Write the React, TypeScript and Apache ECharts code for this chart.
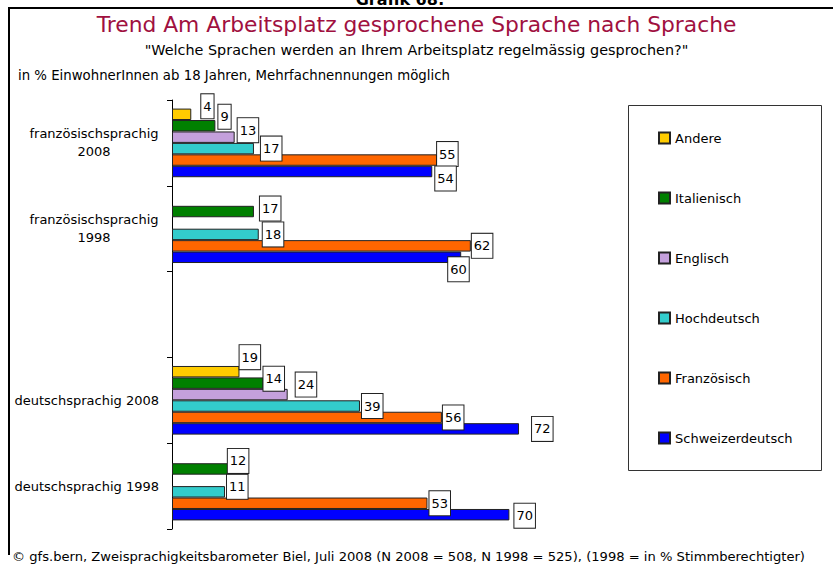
import React, { useEffect, useRef } from 'react';
import * as echarts from 'echarts';

const categories = [
  'französischsprachig\n2008',
  'französischsprachig\n1998',
  '',
  'deutschsprachig 2008',
  'deutschsprachig 1998',
];
const seriesNames = ['Andere', 'Italienisch', 'Englisch', 'Hochdeutsch', 'Französisch', 'Schweizerdeutsch'];
const andere = [4, null, null, 14, null];
const italienisch = [9, 17, null, 19, 12];
const englisch = [13, null, null, 24, null];
const hochdeutsch = [17, 18, null, 39, 11];
const franzoesisch = [55, 62, null, 56, 53];
const schweizerdeutsch = [54, 60, null, 72, 70];

const titleText = 'Trend Am Arbeitsplatz gesprochene Sprache nach Sprache';
const subtitleText = '"Welche Sprachen werden an Ihrem Arbeitsplatz regelmässig gesprochen?"';
const noteText = 'in % EinwohnerInnen ab 18 Jahren, Mehrfachnennungen möglich';
const footerText =
  '© gfs.bern, Zweisprachigkeitsbarometer Biel, Juli 2008 (N 2008 = 508, N 1998 = 525), (1998 = in % Stimmberechtigter)';
const captionText = 'Grafik 68:';

// label nudges [dx, dy] relative to the bar end (as placed manually in the original)
const labelNudges: (number[] | null)[][] = [
  [[10, -8], null, null, [24, 7], null],
  [[3, -9], [6, -3], null, [-24, -26], [-2, -8]],
  [[3, -7], null, null, [8, -10], null],
  [[7, 0], [4, 0], null, [2, 0], [2, -5]],
  [[0, -6], [1, 0], null, [1, 0], [2, 0]],
  [[3, 7], [-13, 12], null, [13, 0], [5, 1]],
];

const colors = ['#FFCC00', '#008000', '#C4A0DC', '#33CCCC', '#FF6600', '#0000FF'];
const FONT = 'DejaVu Sans';

export default function App() {
  const ref = useRef<HTMLDivElement>(null);
  useEffect(() => {
    if (!ref.current) return;
    const chart = echarts.init(ref.current, undefined, { renderer: 'svg' });
    const allValues = [andere, italienisch, englisch, hochdeutsch, franzoesisch, schweizerdeutsch];
    const series = seriesNames.map((name, si) => ({
      name,
      type: 'bar',
      barGap: '0%',
      barCategoryGap: '20%',
      itemStyle: { color: colors[si], borderColor: '#222', borderWidth: 1 },
      label: {
        show: true,
        position: 'right',
        distance: 0,
        color: '#000',
        fontFamily: FONT,
        fontSize: 13,
        lineHeight: 14,
        backgroundColor: '#fff',
        borderColor: '#222',
        borderWidth: 1,
        padding: [5, 2, 5, 2],
      },
      data: allValues[si].map((v, ci) => {
        if (v === null) return '-';
        const n = labelNudges[si][ci];
        return n ? { value: v, label: { offset: n } } : v;
      }),
    }));

    chart.setOption({
      animation: false,
      backgroundColor: '#fff',
      textStyle: { fontFamily: FONT },
      title: [
        {
          text: titleText,
          left: 'center',
          top: 8,
          textStyle: { color: '#A0103F', fontSize: 21.8, fontWeight: 'normal', fontFamily: FONT },
        },
        {
          text: subtitleText,
          left: 'center',
          top: 38,
          textStyle: { color: '#000', fontSize: 14.4, fontWeight: 'normal', fontFamily: FONT },
        },
        {
          text: noteText,
          left: 13,
          top: 64,
          textStyle: { color: '#000', fontSize: 13.3, fontWeight: 'normal', fontFamily: FONT },
        },
        {
          text: footerText,
          left: 7,
          top: 545,
          textStyle: { color: '#000', fontSize: 13.1, fontWeight: 'normal', fontFamily: FONT },
        },
      ],
      legend: {
        orient: 'vertical',
        left: 653,
        top: 126,
        itemWidth: 11,
        itemHeight: 11,
        itemGap: 46,
        icon: 'rect',
        data: seriesNames,
        textStyle: { color: '#000', fontSize: 13, lineHeight: 14, fontFamily: FONT },
      },
      grid: { left: 172, top: 100, width: 482, height: 429 },
      xAxis: { type: 'value', min: 0, max: 100, show: false },
      yAxis: {
        type: 'category',
        inverse: true,
        data: categories,
        axisLine: { show: true, lineStyle: { color: '#000', width: 1 } },
        axisTick: { show: true, length: 5, lineStyle: { color: '#000' } },
        axisLabel: {
          margin: 13,
          color: '#000',
          fontSize: 13,
          fontFamily: FONT,
          lineHeight: 18,
          formatter: (v: string) =>
            v.includes('\n') ? v.split('\n').map((s) => `{c|${s}}`).join('\n') : v,
          rich: {
            c: { width: 130, align: 'center', fontSize: 13, fontFamily: FONT, color: '#000', lineHeight: 18 },
          },
        },
        splitLine: { show: false },
      },
      graphic: [
        { type: 'rect', shape: { x: 8, y: 7, width: 825, height: 2 }, style: { fill: '#000' } },
        { type: 'rect', shape: { x: 8, y: 7, width: 2, height: 548 }, style: { fill: '#000' } },
        {
          type: 'rect',
          shape: { x: 628.5, y: 105.5, width: 193, height: 365 },
          style: { fill: 'none', stroke: '#333', lineWidth: 1 },
        },
        {
          type: 'text',
          x: 400,
          y: 7,
          style: {
            text: captionText,
            fontSize: 16,
            fontWeight: 'bold',
            fontFamily: FONT,
            fill: '#000',
            textAlign: 'center',
            textVerticalAlign: 'bottom',
          },
        },
      ],
      series,
    });
    return () => chart.dispose();
  }, []);
  return <div ref={ref} style={{ position: 'fixed', left: 0, top: 0, width: 833, height: 564 }} />;
}
